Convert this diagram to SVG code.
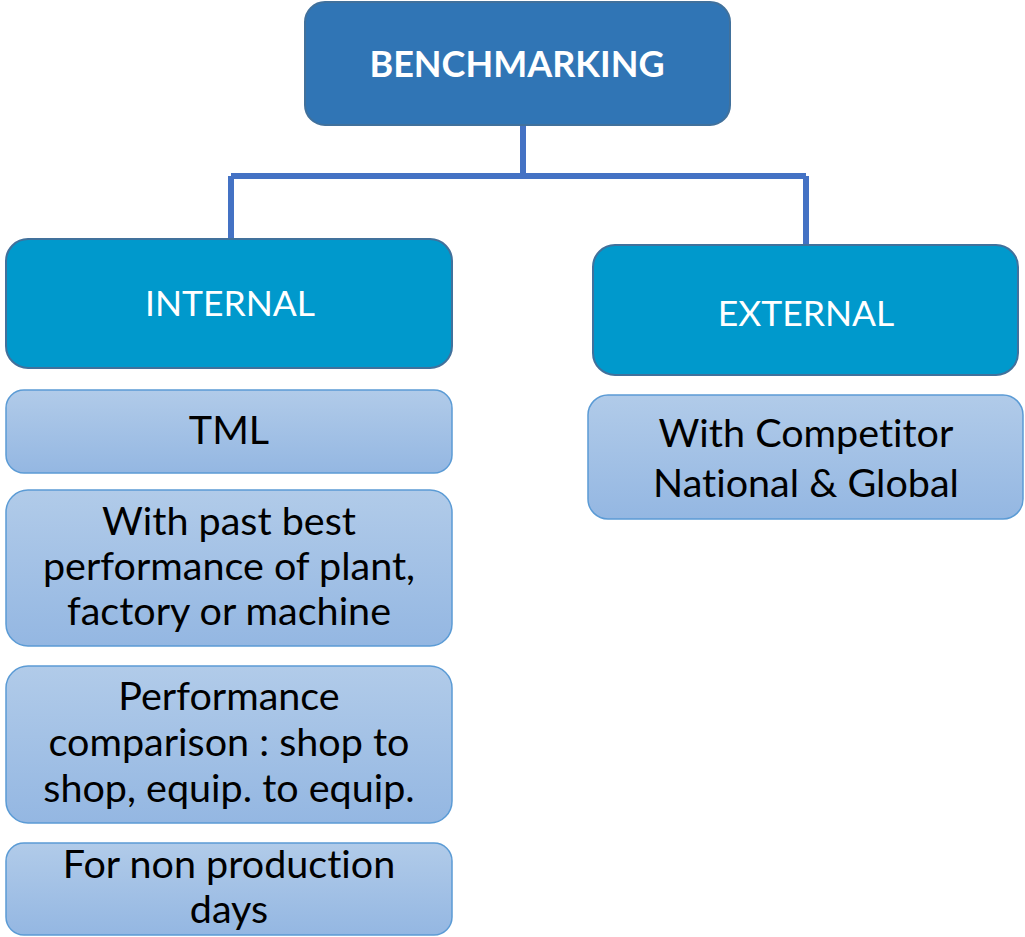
<svg xmlns="http://www.w3.org/2000/svg" width="1025" height="937" viewBox="0 0 1025 937">
<defs>
<linearGradient id="lg" x1="0" y1="0" x2="0" y2="1">
<stop offset="0" stop-color="#B1CBE9"/>
<stop offset="1" stop-color="#94B7E2"/>
</linearGradient>
</defs>
<style>
.top{fill:#3075B5;stroke:#41719C;stroke-width:2}
.mid{fill:#0099CC;stroke:#41719C;stroke-width:2}
.leaf{fill:url(#lg);stroke:#5B9BD5;stroke-width:1.5}
.conn{fill:none;stroke:#4472C4;stroke-width:6}
text{font-family:Lato,"Open Sans","Liberation Sans",sans-serif;text-anchor:middle;font-variant-ligatures:none}
.tt{fill:#fff;font-weight:bold;font-size:36px}
.mt{fill:#fff;font-size:35.5px}
.lt{fill:#000;font-size:39.5px}
</style>
<g id="connectors">
<path class="conn" d="M523 125 V176 M231 176 H806 M231 176 V240 M806 176 V246"/>
</g>
<g id="benchmarking">
<rect class="top" x="305" y="2" width="425" height="123" rx="20"/>
<text class="tt" x="517" y="77">BENCHMARKING</text>
</g>
<g id="internal">
<rect class="mid" x="6" y="239" width="446" height="129" rx="22"/>
<text class="mt" x="230" y="316">INTERNAL</text>
</g>
<g id="external">
<rect class="mid" x="593" y="245" width="425" height="130" rx="22"/>
<text class="mt" x="806" y="326">EXTERNAL</text>
</g>
<g id="tml">
<rect class="leaf" x="6" y="390" width="446" height="83" rx="18"/>
<text class="lt" x="229" y="444">TML</text>
</g>
<g id="past">
<rect class="leaf" x="6" y="490" width="446" height="156" rx="22"/>
<text class="lt" x="229" y="535">With past best</text>
<text class="lt" x="229" y="580">performance of plant,</text>
<text class="lt" x="229" y="625">factory or machine</text>
</g>
<g id="comparison">
<rect class="leaf" x="6" y="666" width="446" height="157" rx="22"/>
<text class="lt" x="229" y="710">Performance</text>
<text class="lt" x="229" y="756">comparison : shop to</text>
<text class="lt" x="229" y="802">shop, equip. to equip.</text>
</g>
<g id="nonprod">
<rect class="leaf" x="6" y="843" width="446" height="92" rx="18"/>
<text class="lt" x="229" y="878">For non production</text>
<text class="lt" x="229" y="923">days</text>
</g>
<g id="competitor">
<rect class="leaf" x="588" y="395" width="435" height="124" rx="20"/>
<text class="lt" x="806" y="447">With Competitor</text>
<text class="lt" x="806" y="497">National &amp; Global</text>
</g>
</svg>
